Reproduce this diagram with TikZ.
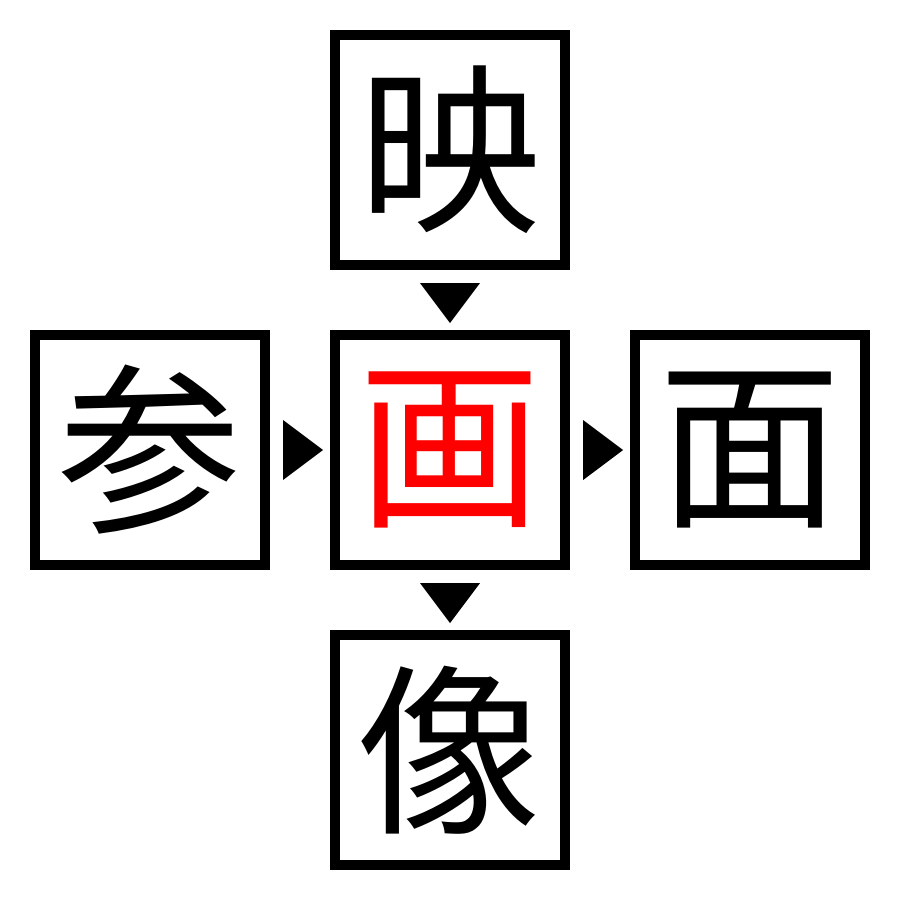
\documentclass[tikz,border=0pt]{standalone}
\usepackage{fontspec}
\newfontfamily\cjk{Noto Sans CJK JP}
\usetikzlibrary{calc}
\begin{document}
\begin{tikzpicture}[x=0.01cm,y=-0.01cm,
  kbox/.style={draw,line width=0.1cm,minimum size=2.3cm,inner sep=0pt,font=\cjk\fontsize{52}{52}\selectfont},
  tri/.style={fill=black}]
\useasboundingbox (0,0) rectangle (900,900);
\node[kbox] (top) at (450,150) {映};
\node[kbox] (left) at (150,450) {参};
\node[kbox,text=red] (mid) at (450,450) {画};
\node[kbox] (right) at (750,450) {面};
\node[kbox] (bot) at (450,750) {像};
% down triangles
\fill[tri] ($(top.south)+(-30,13)$) -- ($(top.south)+(30,13)$) -- ($(top.south)+(0,53)$) -- cycle;
\fill[tri] ($(mid.south)+(-30,13)$) -- ($(mid.south)+(30,13)$) -- ($(mid.south)+(0,53)$) -- cycle;
% right triangles
\fill[tri] ($(left.east)+(13,-30)$) -- ($(left.east)+(13,30)$) -- ($(left.east)+(53,0)$) -- cycle;
\fill[tri] ($(mid.east)+(13,-30)$) -- ($(mid.east)+(13,30)$) -- ($(mid.east)+(53,0)$) -- cycle;
\end{tikzpicture}
\end{document}
